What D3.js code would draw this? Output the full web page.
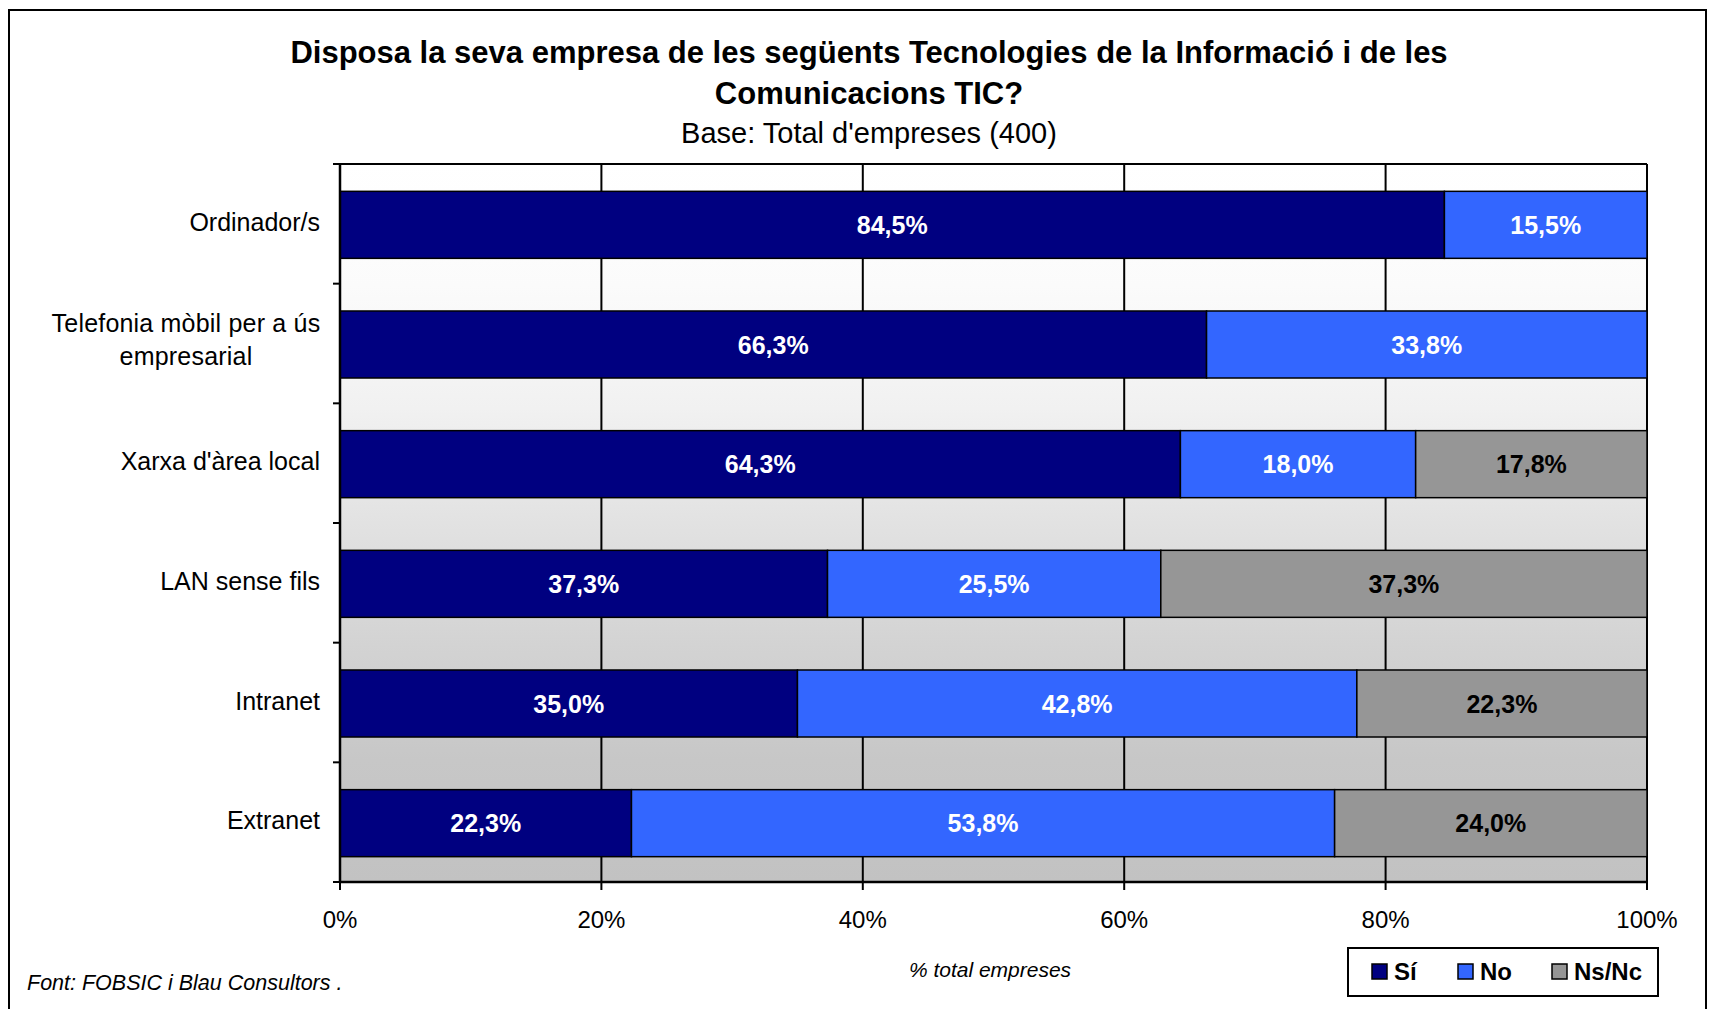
<!DOCTYPE html>
<html>
<head>
<meta charset="utf-8">
<script src="https://cdn.jsdelivr.net/npm/d3@7"></script>
<style>
  body { margin: 0; background: #fff; }
  text { font-family: Arial, "Liberation Sans", sans-serif; }
</style>
</head>
<body>
<div id="graph"></div>
<script>
//data
var categories = ["Ordinador/s", "Telefonia mòbil per a ús|empresarial", "Xarxa d'àrea local", "LAN sense fils", "Intranet", "Extranet"];
var seriesNames = ["Sí", "No", "Ns/Nc"];
var si   = [84.5, 66.3, 64.3, 37.3, 35.0, 22.3];
var no   = [15.5, 33.8, 18.0, 25.5, 42.8, 53.8];
var nsnc = [0, 0, 17.8, 37.3, 22.3, 24.0];
var xTicks = [0, 20, 40, 60, 80, 100];

//measurements
var width = 1715;
var height = 1009;
var margin = { top: 164, right: 68, bottom: 127, left: 340 };
var chartWidth = width - margin.left - margin.right;
var chartHeight = height - margin.top - margin.bottom;
var colors = ["#000080", "#3366ff", "#969696"];
var labelColors = ["#ffffff", "#ffffff", "#000000"];

var svg = d3.select("#graph").append("svg")
    .attr("width", width)
    .attr("height", height);

// outer frame
svg.append("rect")
    .attr("x", 9).attr("y", 10)
    .attr("width", 1697).attr("height", 1020)
    .attr("fill", "#fff")
    .attr("stroke", "#000")
    .attr("stroke-width", 2);

// titles
svg.append("text")
    .attr("x", 869).attr("y", 63)
    .attr("text-anchor", "middle")
    .style("font-size", "31px").style("font-weight", "bold")
    .text("Disposa la seva empresa de les següents Tecnologies de la Informació i de les");
svg.append("text")
    .attr("x", 869).attr("y", 104)
    .attr("text-anchor", "middle")
    .style("font-size", "31px").style("font-weight", "bold")
    .text("Comunicacions TIC?");
svg.append("text")
    .attr("x", 869).attr("y", 143)
    .attr("text-anchor", "middle")
    .style("font-size", "29px")
    .text("Base: Total d'empreses (400)");

// background gradient
var grad = svg.append("defs").append("linearGradient")
    .attr("id", "bg")
    .attr("x1", 0).attr("y1", 0).attr("x2", 0).attr("y2", 1);
[[0, "#ffffff"], [0.17, "#fbfbfb"], [0.34, "#f1f1f1"], [0.5, "#e2e2e2"], [0.67, "#d3d3d3"], [0.83, "#c7c7c7"], [1, "#c2c2c2"]]
    .forEach(function (s) {
        grad.append("stop").attr("offset", s[0]).attr("stop-color", s[1]);
    });

var plot = svg.append("g")
    .attr("transform", "translate(" + margin.left + "," + margin.top + ")");

plot.append("rect")
    .attr("width", chartWidth)
    .attr("height", chartHeight)
    .attr("fill", "url(#bg)");

// scales
var x = d3.scaleLinear().domain([0, 100]).range([0, chartWidth]).clamp(true);
var y = d3.scaleBand().domain(categories).range([0, chartHeight])
    .paddingInner(0.44).paddingOuter(0.22);

// gridlines
plot.selectAll(".grid")
    .data(xTicks.slice(1))
    .enter().append("line")
    .attr("x1", function (d) { return x(d); })
    .attr("x2", function (d) { return x(d); })
    .attr("y1", 0).attr("y2", chartHeight)
    .attr("stroke", "#000").attr("stroke-width", 2);

plot.append("line")
    .attr("x1", 0).attr("x2", chartWidth)
    .attr("y1", 0).attr("y2", 0)
    .attr("stroke", "#000").attr("stroke-width", 2);

// stacked bars
var rows = categories.map(function (c, i) {
    return { cat: c, values: [si[i], no[i], nsnc[i]] };
});

rows.forEach(function (r) {
    var start = 0;
    r.values.forEach(function (v, k) {
        if (v > 0) {
            var x0 = x(start), x1 = x(start + v);
            plot.append("rect")
                .attr("class", "bar")
                .attr("x", x0)
                .attr("y", y(r.cat) + 1)
                .attr("width", x1 - x0)
                .attr("height", y.bandwidth())
                .attr("fill", colors[k])
                .attr("stroke", "#000")
                .attr("stroke-width", 1.5);
            plot.append("text")
                .attr("x", (x0 + x1) / 2)
                .attr("y", y(r.cat) + y.bandwidth() / 2 + 10)
                .attr("text-anchor", "middle")
                .style("font-size", "25px").style("font-weight", "bold")
                .attr("fill", labelColors[k])
                .text(d3.format(".1f")(v).replace(".", ",") + "%");
        }
        start += v;
    });
});

// y axis
var step = y.step();
var boundaries = d3.range(categories.length + 1).map(function (i) {
    return y(categories[0]) - step * y.paddingInner() / 2 + i * step;
});
plot.append("line")
    .attr("x1", 0).attr("x2", 0)
    .attr("y1", 0).attr("y2", chartHeight)
    .attr("stroke", "#000").attr("stroke-width", 2.5);
plot.selectAll(".ytick")
    .data(boundaries)
    .enter().append("line")
    .attr("x1", -7).attr("x2", 0)
    .attr("y1", function (d) { return d; })
    .attr("y2", function (d) { return d; })
    .attr("stroke", "#000").attr("stroke-width", 2);

categories.forEach(function (c) {
    var lines = c.split("|");
    var cy = y(c) + y.bandwidth() / 2;
    if (lines.length == 1) {
        plot.append("text")
            .attr("x", -20).attr("y", cy + 7)
            .attr("text-anchor", "end")
            .style("font-size", "25px")
            .text(c);
    } else {
        // two-line label, centred as a block
        var t = plot.append("text")
            .attr("text-anchor", "middle")
            .style("font-size", "25px")
            .style("letter-spacing", "0.2px");
        t.append("tspan").attr("x", -154).attr("y", cy - 12).text(lines[0]);
        t.append("tspan").attr("x", -154).attr("y", cy + 21).text(lines[1]);
    }
});

// x axis
plot.append("line")
    .attr("x1", 0).attr("x2", chartWidth)
    .attr("y1", chartHeight).attr("y2", chartHeight)
    .attr("stroke", "#000").attr("stroke-width", 2.5);
plot.selectAll(".xtick")
    .data(xTicks)
    .enter().append("line")
    .attr("x1", function (d) { return x(d); })
    .attr("x2", function (d) { return x(d); })
    .attr("y1", chartHeight).attr("y2", chartHeight + 8)
    .attr("stroke", "#000").attr("stroke-width", 2);
plot.selectAll(".xlabel")
    .data(xTicks)
    .enter().append("text")
    .attr("x", function (d) { return x(d); })
    .attr("y", chartHeight + 46)
    .attr("text-anchor", "middle")
    .style("font-size", "24px")
    .text(function (d) { return d + "%"; });

svg.append("text")
    .attr("x", 990).attr("y", 977)
    .attr("text-anchor", "middle")
    .style("font-size", "21px").style("font-style", "italic")
    .text("% total empreses");

svg.append("text")
    .attr("x", 27).attr("y", 990)
    .style("font-size", "21.5px").style("font-style", "italic")
    .text("Font: FOBSIC i Blau Consultors .");

// legend
var legend = svg.append("g");
legend.append("rect")
    .attr("x", 1348).attr("y", 948)
    .attr("width", 310).attr("height", 48)
    .attr("fill", "#fff")
    .attr("stroke", "#000").attr("stroke-width", 2);
var legendX = [1372, 1458, 1552];
seriesNames.forEach(function (s, k) {
    legend.append("rect")
        .attr("x", legendX[k]).attr("y", 964)
        .attr("width", 15).attr("height", 15)
        .attr("fill", colors[k])
        .attr("stroke", "#000").attr("stroke-width", 1.5);
    legend.append("text")
        .attr("x", legendX[k] + 22).attr("y", 980)
        .style("font-size", "24px").style("font-weight", "bold")
        .text(s);
});
</script>
</body>
</html>
